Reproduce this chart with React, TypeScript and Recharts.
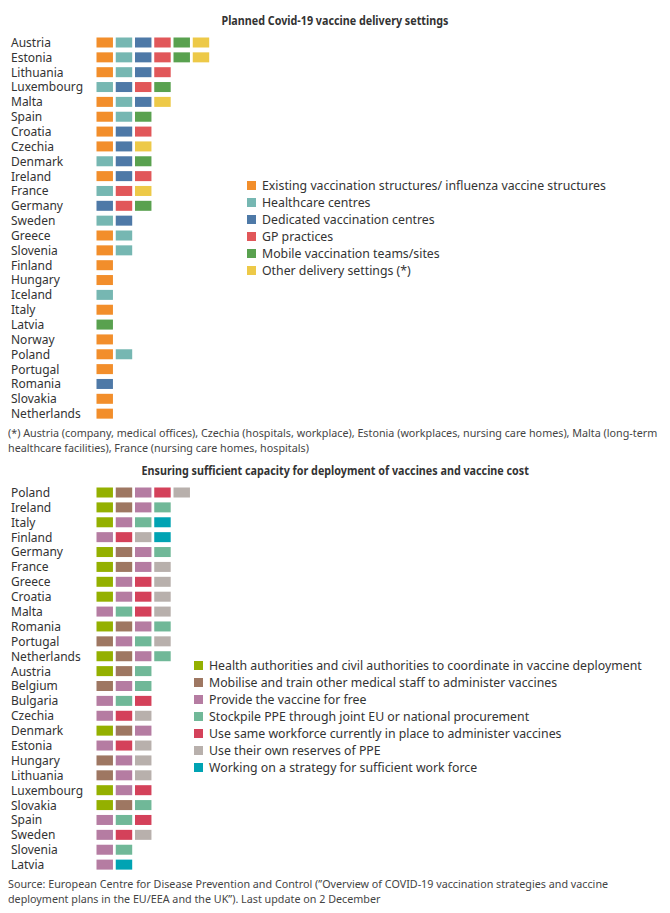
import React from 'react';
import { BarChart, Bar, XAxis, YAxis } from 'recharts';

// Chart 1: planned delivery settings
const settingsCountries = [
  'Austria', 'Estonia', 'Lithuania', 'Luxembourg', 'Malta', 'Spain', 'Croatia', 'Czechia',
  'Denmark', 'Ireland', 'France', 'Germany', 'Sweden', 'Greece', 'Slovenia', 'Finland',
  'Hungary', 'Iceland', 'Italy', 'Latvia', 'Norway', 'Poland', 'Portugal', 'Romania',
  'Slovakia', 'Netherlands',
];
const settingsLabels = [
  'Existing vaccination structures/ influenza vaccine structures',
  'Healthcare centres',
  'Dedicated vaccination centres',
  'GP practices',
  'Mobile vaccination teams/sites',
  'Other delivery settings (*)',
];
const settingsColors = ['#F28E2B', '#76B7B2', '#4E79A7', '#E15759', '#59A14F', '#EDC948'];
const existingStructures = [1, 1, 1, 0, 1, 1, 1, 1, 0, 1, 0, 0, 0, 1, 1, 1, 1, 0, 1, 0, 1, 1, 1, 0, 1, 1];
const healthcareCentres = [1, 1, 1, 1, 1, 1, 0, 0, 1, 0, 1, 0, 1, 1, 1, 0, 0, 1, 0, 0, 0, 1, 0, 0, 0, 0];
const dedicatedCentres = [1, 1, 1, 1, 1, 0, 1, 1, 1, 1, 0, 1, 1, 0, 0, 0, 0, 0, 0, 0, 0, 0, 0, 1, 0, 0];
const gpPractices = [1, 1, 1, 1, 0, 0, 1, 0, 0, 1, 1, 1, 0, 0, 0, 0, 0, 0, 0, 0, 0, 0, 0, 0, 0, 0];
const mobileTeams = [1, 1, 0, 1, 0, 1, 0, 0, 1, 0, 0, 1, 0, 0, 0, 0, 0, 0, 0, 1, 0, 0, 0, 0, 0, 0];
const otherSettings = [1, 1, 0, 0, 1, 0, 0, 1, 0, 0, 1, 0, 0, 0, 0, 0, 0, 0, 0, 0, 0, 0, 0, 0, 0, 0];
const settingsSeries = [existingStructures, healthcareCentres, dedicatedCentres, gpPractices, mobileTeams, otherSettings];

// Chart 2: capacity for deployment and cost
const capacityCountries = [
  'Poland', 'Ireland', 'Italy', 'Finland', 'Germany', 'France', 'Greece', 'Croatia', 'Malta',
  'Romania', 'Portugal', 'Netherlands', 'Austria', 'Belgium', 'Bulgaria', 'Czechia', 'Denmark',
  'Estonia', 'Hungary', 'Lithuania', 'Luxembourg', 'Slovakia', 'Spain', 'Sweden', 'Slovenia',
  'Latvia',
];
const capacityLabels = [
  'Health authorities and civil authorities to coordinate in vaccine deployment',
  'Mobilise and train other medical staff to administer vaccines',
  'Provide the vaccine for free',
  'Stockpile PPE through joint EU or national procurement',
  'Use same workforce currently in place to administer vaccines',
  'Use their own reserves of PPE',
  'Working on a strategy for sufficient work force',
];
const capacityColors = ['#94B000', '#9E7762', '#B57CA2', '#70B898', '#D4415A', '#B8B0AC', '#00A3B3'];
const coordinateAuthorities = [1, 1, 1, 0, 1, 1, 1, 1, 0, 1, 0, 1, 1, 0, 0, 0, 1, 0, 0, 0, 1, 1, 0, 0, 0, 0];
const mobiliseStaff = [1, 1, 0, 0, 1, 1, 0, 0, 0, 1, 1, 1, 1, 1, 0, 0, 1, 0, 1, 1, 0, 1, 0, 0, 0, 0];
const freeVaccine = [1, 1, 1, 1, 1, 1, 1, 1, 1, 1, 1, 1, 0, 1, 1, 1, 1, 1, 1, 1, 1, 0, 1, 1, 1, 1];
const stockpilePPE = [0, 1, 1, 0, 1, 0, 0, 0, 1, 1, 1, 1, 1, 1, 1, 0, 0, 0, 0, 0, 0, 1, 1, 0, 1, 0];
const sameWorkforce = [1, 0, 0, 1, 0, 0, 1, 1, 1, 0, 0, 0, 0, 0, 1, 1, 0, 1, 0, 0, 1, 0, 1, 1, 0, 0];
const ownReserves = [1, 0, 0, 1, 0, 1, 1, 1, 1, 0, 1, 0, 0, 0, 0, 1, 0, 1, 1, 1, 0, 0, 0, 1, 0, 0];
const workforceStrategy = [0, 0, 1, 1, 0, 0, 0, 0, 0, 0, 0, 0, 0, 0, 0, 0, 0, 0, 0, 0, 0, 0, 0, 0, 0, 1];
const capacitySeries = [coordinateAuthorities, mobiliseStaff, freeVaccine, stockpilePPE, sameWorkforce, ownReserves, workforceStrategy];

const labelFont = '"Noto Sans", sans-serif';

const buildRows = (countries: string[], series: number[][]) =>
  countries.map((country, i) => {
    const row: Record<string, string | number> = { country };
    series.forEach((s, k) => { row[`s${k}`] = s[i]; });
    return row;
  });

// square cell, with a small gap to the next one
const Cell = (props: any) => {
  const { x, y, width, height, fill } = props;
  if (!width || width <= 0) return null;
  return <rect x={x} y={y} width={width - 2.8} height={height} fill={fill} />;
};

const CountryTick = (props: any) => {
  const { y, payload } = props;
  return (
    <text x={11} y={y} dy={4.5} fontSize={12} fill="#333" fontFamily={labelFont}>
      {payload.value}
    </text>
  );
};

const SquareLegend = ({ labels, colors, left, top, fontSize }: {
  labels: string[]; colors: string[]; left: number; top: number; fontSize: number;
}) => (
  <div style={{ position: 'absolute', left, top }}>
    {labels.map((label, i) => (
      <div key={label} style={{ display: 'flex', alignItems: 'center', height: 17 }}>
        <span style={{ width: 9, height: 9, background: colors[i], marginRight: 6, flex: 'none' }} />
        <span style={{ fontSize, color: '#333', fontFamily: labelFont, whiteSpace: 'nowrap' }}>{label}</span>
      </div>
    ))}
  </div>
);

type MatrixProps = {
  countries: string[];
  series: number[][];
  labels: string[];
  colors: string[];
  height: number;
  marginTop: number;
};

const Matrix: React.FC<MatrixProps> = ({ countries, series, labels, colors, height, marginTop }) => {
  const data = buildRows(countries, series);
  return (
    <BarChart
      width={670}
      height={height}
      data={data}
      layout="vertical"
      margin={{ top: marginTop, right: 458, bottom: 4, left: 0 }}
      barCategoryGap={2.5}
    >
      <XAxis type="number" domain={[0, 6]} hide />
      <YAxis
        type="category"
        dataKey="country"
        width={96.5}
        axisLine={false}
        tickLine={false}
        interval={0}
        tick={<CountryTick />}
      />
      {labels.map((label, k) => (
        <Bar
          key={label}
          dataKey={`s${k}`}
          name={label}
          stackId="a"
          fill={colors[k]}
          shape={<Cell />}
          isAnimationActive={false}
        />
      ))}
    </BarChart>
  );
};

const noteStyle: React.CSSProperties = {
  position: 'absolute',
  left: 8,
  fontFamily: labelFont,
  fontSize: 11.5,
  color: '#444',
  lineHeight: '15px',
  whiteSpace: 'nowrap',
  transform: 'scaleX(0.935)',
  transformOrigin: 'left center',
};

const Title = ({ top, children }: { top: number; children: React.ReactNode }) => (
  <div style={{ position: 'absolute', left: 0, top, width: 670, textAlign: 'center' }}>
    <span
      style={{
        display: 'inline-block',
        fontFamily: labelFont,
        fontWeight: 'bold',
        fontSize: 12.5,
        color: '#333',
        whiteSpace: 'nowrap',
        transform: 'scaleX(0.86)',
      }}
    >
      {children}
    </span>
  </div>
);

export default function App() {
  return (
    <div style={{ position: 'absolute', left: 0, top: 0, width: 670, height: 913, background: '#fff' }}>
      <Title top={11}>Planned Covid-19 vaccine delivery settings</Title>
      <div style={{ position: 'absolute', left: 0, top: 0 }}>
        <Matrix
          countries={settingsCountries}
          series={settingsSeries}
          labels={settingsLabels}
          colors={settingsColors}
          height={425}
          marginTop={35}
        />
      </div>
      <SquareLegend labels={settingsLabels} colors={settingsColors} left={247} top={177} fontSize={12.3} />
      <div style={{ ...noteStyle, top: 425 }}>
        (*) Austria (company, medical offices), Czechia (hospitals, workplace), Estonia (workplaces, nursing care homes), Malta (long-term
        <br />
        healthcare facilities), France (nursing care homes, hospitals)
      </div>
      <Title top={461}>Ensuring sufficient capacity for deployment of vaccines and vaccine cost</Title>
      <div style={{ position: 'absolute', left: 0, top: 475 }}>
        <Matrix
          countries={capacityCountries}
          series={capacitySeries}
          labels={capacityLabels}
          colors={capacityColors}
          height={401}
          marginTop={10}
        />
      </div>
      <SquareLegend labels={capacityLabels} colors={capacityColors} left={194} top={657} fontSize={12.3} />
      <div style={{ ...noteStyle, top: 876 }}>
        Source: European Centre for Disease Prevention and Control (”Overview of COVID-19 vaccination strategies and vaccine
        <br />
        deployment plans in the EU/EEA and the UK”). Last update on 2 December
      </div>
    </div>
  );
}
